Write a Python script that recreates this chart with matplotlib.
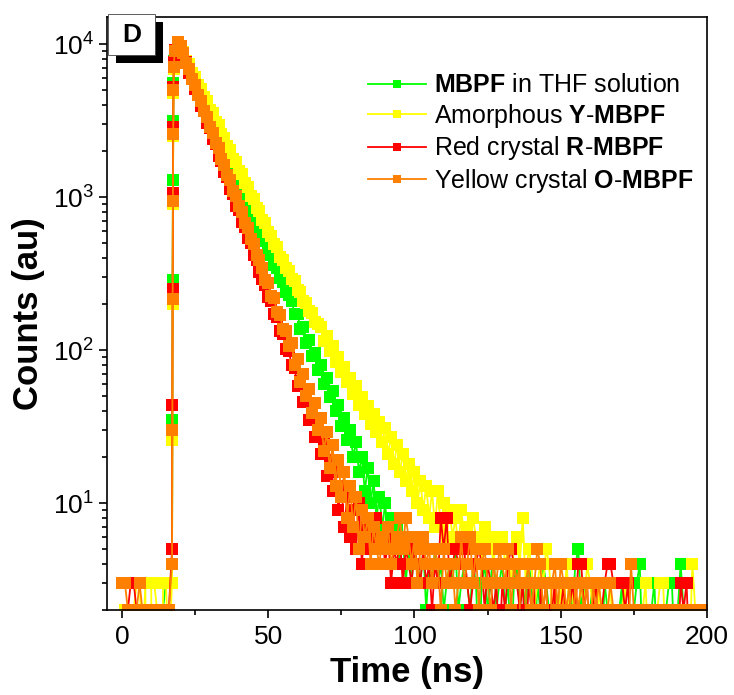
import matplotlib.pyplot as plt
from matplotlib.patches import Rectangle
from matplotlib.ticker import MultipleLocator, LogLocator, NullFormatter

plt.rcParams['font.family'] = ['Liberation Sans', 'DejaVu Sans']
plt.rcParams['mathtext.fontset'] = 'custom'
plt.rcParams['mathtext.rm'] = 'Liberation Sans'
plt.rcParams['mathtext.bf'] = 'Liberation Sans:bold'

# time axis (ns): baseline channels, the steep rise, then the decay
base_times = list(range(0, 17))
rise_times = [17.1, 17.2, 17.3, 17.4, 17.5, 17.6, 17.7]
decay_times = list(range(18, 201))
time_ns = base_times + rise_times + decay_times

# MBPF in THF solution (green)
thf_base = [0, 1, 2, 0, 1, 0, 2, 1, 0, 1, 0, 2, 0, 1, 2, 3, 3]
thf_rise = [3, 35, 287, 1290, 3160, 5600, 7800]
thf_decay = [
    9200, 10000, 9500, 8700, 7800, 7050, 6300, 5750, 5130, 4700,   # 18
    4180, 3850, 3420, 3150, 2780, 2580, 2270, 2110, 1850, 1720,    # 28
    1510, 1410, 1230, 1150, 1000, 940, 815, 770, 665, 630,         # 38
    545, 515, 445, 420, 362, 343, 296, 280, 241, 228,              # 48
    210, 172, 172, 138, 142, 112, 116, 91, 96, 74,                 # 58
    80, 60, 66, 49, 54, 40, 44, 32, 36, 26,                        # 68
    30, 20, 25, 16, 20, 12, 17, 10, 14, 8,                         # 78
    11, 7, 10, 5, 8, 6, 7, 4, 6, 3,                                # 88
    5, 3, 5, 4, 3, 5, 2, 4, 3, 5,                                  # 98
    3, 4, 2, 3, 4, 3, 5, 2, 3, 4,                                  # 108
    3, 2, 4, 3, 1, 3, 4, 2, 3, 5,                                  # 118
    2, 3, 4, 2, 3, 1, 3, 4, 2, 3,                                  # 128
    2, 4, 3, 1, 3, 2, 4, 3, 2, 0,                                  # 138
    3, 2, 3, 1, 2, 3, 2, 4, 5, 2,                                  # 148
    3, 1, 2, 3, 0, 2, 1, 3, 2, 0,                                  # 158
    2, 1, 2, 3, 0, 2, 1, 2, 3, 4,                                  # 168
    1, 2, 0, 2, 3, 1, 2, 0, 2, 3,                                  # 178
    3, 1, 2, 4, 2, 0, 2, 1, 2, 0,                                  # 188
    1, 2, 0,                                                       # 198
]

# amorphous Y-MBPF (yellow)
amor_base = [0, 2, 1, 0, 2, 3, 3, 1, 3, 0, 3, 3, 2, 0, 3, 3, 1]
amor_rise = [3, 26, 200, 900, 2500, 4800, 6900]
amor_decay = [
    8800, 10000, 9700, 8850, 7800, 7350, 6450, 6120, 5380, 5080,   # 18
    4480, 4240, 3720, 3530, 3090, 2940, 2570, 2440, 2140, 2040,    # 28
    1780, 1700, 1480, 1410, 1230, 1170, 1020, 975, 850, 810,       # 38
    705, 675, 590, 560, 490, 468, 408, 390, 345, 330,              # 48
    292, 282, 248, 240, 210, 204, 180, 174, 152, 148,              # 58
    142, 115, 124, 98, 106, 84, 90, 72, 78, 62,                    # 68
    66, 52, 58, 44, 49, 38, 43, 33, 38, 29,                        # 78
    34, 25, 31, 21, 27, 18, 24, 16, 21, 14,                        # 88
    18, 12, 16, 10, 14, 9, 13, 8, 12, 7,                           # 98
    12, 7, 10, 6, 9, 6, 8, 5, 9, 6,                                # 108
    7, 5, 8, 6, 6, 4, 7, 5, 6, 4,                                  # 118
    6, 5, 6, 4, 5, 3, 5, 6, 4, 8,                                  # 128
    3, 5, 4, 2, 3, 4, 3, 5, 4, 2,                                  # 138
    3, 1, 3, 2, 4, 2, 3, 1, 2, 3,                                  # 148
    2, 4, 3, 2, 0, 3, 2, 1, 2, 3,                                  # 158
    1, 2, 0, 2, 3, 1, 2, 0, 2, 1,                                  # 168
    2, 3, 1, 2, 0, 2, 3, 3, 1, 2,                                  # 178
    0, 2, 1, 2, 0, 2, 1, 4, 2, 1,                                  # 188
    2, 0, 2,                                                       # 198
]

# red crystal R-MBPF
red_base = [1, 0, 2, 3, 3, 2, 2, 0, 1, 0, 2, 1, 0, 1, 2, 0, 2]
red_rise = [5, 44, 250, 1070, 2870, 5260, 7600]
red_decay = [
    9100, 9900, 9500, 8350, 7600, 6500, 5950, 5050, 4650, 3930,    # 18
    3640, 3060, 2840, 2390, 2210, 1860, 1730, 1450, 1350, 1130,    # 28
    1050, 880, 820, 690, 640, 540, 498, 420, 390, 326,             # 38
    290, 268, 222, 210, 172, 165, 134, 128, 102, 99,               # 48
    80, 76, 58, 63, 46, 50, 35, 40, 27, 31,                        # 58
    21, 25, 15, 19, 12, 16, 9, 13, 7, 11,                          # 68
    6, 9, 5, 10, 4, 7, 5, 8, 6, 8,                                 # 78
    5, 6, 4, 6, 3, 5, 4, 6, 3, 5,                                  # 88
    4, 3, 5, 4, 3, 5, 3, 4, 2, 4,                                  # 98
    3, 8, 5, 8, 3, 4, 5, 4, 5, 5,                                  # 108
    3, 2, 3, 4, 5, 4, 2, 4, 3, 2,                                  # 118
    3, 1, 3, 2, 4, 5, 4, 3, 2, 3,                                  # 128
    1, 3, 2, 3, 0, 3, 2, 3, 1, 2,                                  # 138
    3, 0, 2, 3, 1, 2, 3, 2, 4, 4,                                  # 148
    2, 3, 1, 2, 3, 1, 2, 3, 4, 4,                                  # 158
    3, 3, 3, 3, 2, 3, 1, 2, 0, 2,                                  # 168
    1, 2, 2, 0, 2, 1, 2, 0, 1, 2,                                  # 178
    0, 2, 1, 3, 2, 3, 1, 2, 0, 1,                                  # 188
    2, 0, 1,                                                       # 198
]

# yellow crystal O-MBPF (orange)
orange_base = [3, 3, 2, 2, 0, 2, 3, 2, 1, 2, 2, 0, 2, 1, 2, 2, 2]
orange_rise = [4, 30, 215, 940, 2600, 5000, 7100]
orange_decay = [
    9000, 10300, 9700, 8700, 7550, 6850, 5950, 5380, 4650, 4240,   # 18
    3650, 3340, 2880, 2620, 2260, 2080, 1780, 1630, 1400, 1290,    # 28
    1100, 1010, 870, 795, 680, 630, 535, 495, 420, 390,            # 38
    345, 285, 275, 225, 218, 176, 170, 138, 134, 106,              # 48
    112, 80, 88, 62, 70, 50, 56, 39, 45, 30,                       # 58
    36, 22, 29, 17, 24, 13, 19, 11, 16, 8,                         # 68
    13, 7, 11, 5, 9, 6, 8, 4, 7, 5,                                # 78
    4, 6, 5, 7, 4, 5, 6, 8, 5, 8,                                  # 88
    6, 4, 6, 3, 5, 6, 4, 5, 3, 5,                                  # 98
    4, 2, 5, 3, 4, 4, 2, 3, 6, 3,                                  # 108
    4, 6, 3, 5, 2, 4, 5, 3, 2, 4,                                  # 118
    3, 5, 4, 3, 5, 2, 4, 3, 4, 0,                                  # 128
    3, 4, 2, 3, 5, 4, 2, 3, 1, 3,                                  # 138
    4, 2, 4, 3, 2, 3, 1, 3, 2, 3,                                  # 148
    2, 3, 1, 3, 2, 3, 2, 0, 2, 3,                                  # 158
    2, 1, 2, 0, 2, 1, 4, 2, 0, 2,                                  # 168
    1, 2, 0, 2, 2, 1, 2, 0, 2, 1,                                  # 178
    2, 2, 0, 2, 1, 2, 0, 2, 1, 2,                                  # 188
    2, 0, 2,                                                       # 198
]

series_labels = [
    r"$\mathbf{MBPF}$ in THF solution",
    r"Amorphous $\mathbf{Y}$-$\mathbf{MBPF}$",
    r"Red crystal $\mathbf{R}$-$\mathbf{MBPF}$",
    r"Yellow crystal $\mathbf{O}$-$\mathbf{MBPF}$",
]
series_colors = ['#00ff00', '#ffff00', '#ff0000', '#ff8000']
series_counts = [
    thf_base + thf_rise + thf_decay,
    amor_base + amor_rise + amor_decay,
    red_base + red_rise + red_decay,
    orange_base + orange_rise + orange_decay,
]


def draw_decay_chart():
    fig = plt.figure(figsize=(7.34, 6.95), dpi=100)
    ax = fig.add_axes([0.1463, 0.1223, 0.8169, 0.8531])

    for counts, color, label in zip(series_counts, series_colors, series_labels):
        ax.plot(time_ns, counts, '-s', color=color, lw=1.3, ms=8.6, mew=0, label=label)

    ax.set_yscale('log')
    ax.set_xlim(-5, 200)
    ax.set_ylim(2, 15000)

    ax.xaxis.set_major_locator(MultipleLocator(50))
    ax.xaxis.set_minor_locator(MultipleLocator(25))
    ax.yaxis.set_major_locator(LogLocator(base=10))
    ax.yaxis.set_minor_locator(LogLocator(base=10, subs=range(2, 10)))
    ax.yaxis.set_minor_formatter(NullFormatter())

    ax.tick_params(which='both', direction='out', top=False, right=False, width=1.2, labelsize=19)
    ax.tick_params(which='major', length=6)
    ax.tick_params(which='minor', length=3.5)
    ax.tick_params(axis='x', pad=5)
    for spine in ax.spines.values():
        spine.set_linewidth(1.2)

    ax.set_xlabel("Time (ns)", fontsize=25, fontweight='bold', labelpad=5)
    ax.set_ylabel("Counts (au)", fontsize=25, fontweight='bold', labelpad=6)

    ax.legend(loc='upper left', bbox_to_anchor=(0.435, 0.905), frameon=False, fontsize=18,
              handlelength=2.3, handletextpad=0.35, labelspacing=0.18, borderpad=0,
              borderaxespad=0, markerscale=0.62)

    # panel letter with drop shadow
    ax.add_patch(Rectangle((0.0143, 0.9226), 0.0784, 0.069, transform=ax.transAxes,
                           facecolor='black', edgecolor='none', clip_on=False, zorder=5))
    ax.add_patch(Rectangle((0.001, 0.936), 0.0784, 0.069, transform=ax.transAxes,
                           facecolor='white', edgecolor='#444444', lw=0.6, clip_on=False, zorder=6))
    ax.text(0.0402, 0.9705, "D", transform=ax.transAxes, fontsize=19, fontweight='bold',
            ha='center', va='center', zorder=7)

    fig.savefig("out.png", dpi=100)


if __name__ == "__main__":
    draw_decay_chart()
